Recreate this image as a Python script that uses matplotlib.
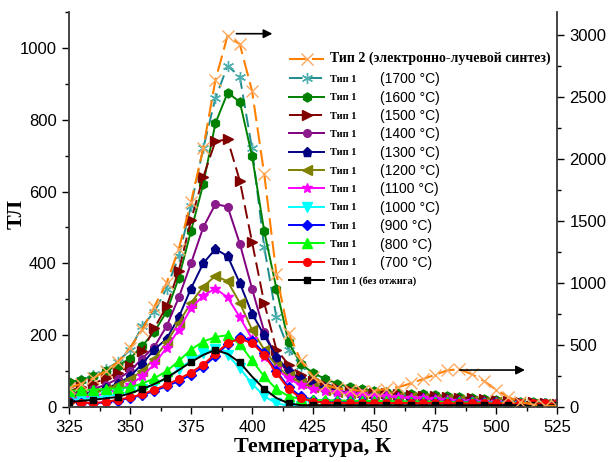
import matplotlib.pyplot as plt
import numpy as np
from matplotlib.ticker import MultipleLocator

plt.rcParams['font.family'] = ['Liberation Sans', 'DejaVu Sans']

# temperature grid, K
temp = np.arange(325, 530, 5)

# type 2 (electron-beam synthesis), right axis
type2 = [153, 188, 232, 290, 362, 478, 622, 810, 1000, 1275,
         1650, 2085, 2635, 2995, 2925, 2550, 1880, 1070, 595, 375,
         245, 180, 150, 140, 130, 130, 145, 160, 190, 225,
         260, 295, 305, 265, 210, 140, 80, 40, 20, 12, 6]

# type 1, annealed at different temperatures, left axis
t1700 = [65, 75, 90, 105, 125, 160, 225, 265, 330, 420,
         560, 720, 860, 950, 920, 720, 445, 250, 160, 115,
         85, 65, 55, 50, 45, 40, 38, 35, 32, 30,
         28, 25, 22, 20, 18, 15, 13, 11, 10, 9, 8]
t1600 = [70, 75, 85, 100, 115, 135, 170, 210, 265, 360,
         490, 620, 790, 875, 850, 700, 490, 330, 180, 120,
         95, 78, 65, 55, 50, 45, 42, 40, 37, 35,
         33, 30, 28, 25, 22, 20, 18, 15, 13, 10, 8]
t1500 = [45, 55, 65, 80, 95, 115, 155, 220, 280, 380,
         520, 640, 740, 745, 630, 460, 290, 160, 118, 90,
         72, 60, 52, 46, 42, 40, 38, 36, 34, 32,
         30, 28, 26, 24, 22, 20, 17, 15, 13, 11, 9]
t1400 = [35, 42, 50, 62, 78, 100, 135, 168, 225, 305,
         400, 500, 565, 558, 455, 330, 210, 135, 95, 75,
         62, 52, 45, 40, 36, 33, 30, 28, 26, 24,
         22, 20, 18, 17, 15, 13, 12, 10, 9, 8, 7]
t1300 = [30, 35, 42, 52, 65, 85, 120, 160, 190, 250,
         330, 400, 440, 420, 345, 260, 200, 140, 100, 78,
         62, 52, 45, 40, 36, 33, 30, 28, 26, 24,
         22, 20, 18, 17, 15, 13, 12, 10, 9, 8, 7]
t1200 = [25, 30, 38, 48, 60, 78, 100, 135, 180, 235,
         290, 335, 365, 350, 290, 215, 160, 115, 85, 68,
         55, 47, 42, 38, 35, 33, 31, 29, 27, 25,
         23, 21, 19, 17, 15, 13, 12, 10, 9, 8, 7]
t1100 = [20, 25, 30, 38, 48, 62, 85, 120, 165, 215,
         275, 310, 330, 305, 250, 190, 140, 105, 80, 60,
         50, 45, 42, 38, 35, 32, 30, 27, 25, 24,
         22, 20, 18, 17, 15, 13, 12, 10, 9, 8, 7]
t1000 = [20, 22, 25, 30, 35, 42, 50, 62, 80, 105,
         130, 150, 162, 145, 108, 65, 30, 10, 4, 2,
         2, 2, 2, 2, 2, 2, 2, 2, 2, 2,
         2, 2, 2, 2, 2, 2, 2, 2, 2, 2, 2]
t900 = [18, 12, 10, 13, 18, 25, 33, 45, 58, 72,
        90, 112, 142, 175, 195, 185, 150, 100, 55, 30,
        20, 18, 17, 16, 16, 15, 15, 15, 14, 14,
        14, 13, 13, 13, 12, 12, 12, 11, 11, 10, 10]
t800 = [45, 47, 48, 50, 52, 55, 65, 80, 100, 128,
        160, 182, 195, 200, 175, 130, 85, 50, 30, 22,
        20, 19, 18, 18, 17, 17, 16, 16, 15, 15,
        14, 14, 13, 13, 12, 12, 11, 11, 10, 10, 9]
t700 = [14, 12, 11, 14, 20, 27, 35, 48, 62, 78,
        96, 118, 148, 178, 190, 178, 145, 95, 50, 25,
        15, 12, 11, 11, 11, 11, 11, 11, 11, 11,
        11, 11, 10, 10, 10, 10, 10, 10, 10, 10, 10]
raw = [14, 17, 20, 24, 28, 38, 50, 64, 81, 103,
       125, 145, 159, 148, 124, 85, 50, 25, 10, 5,
       5, 5, 5, 5, 5, 5, 5, 5, 5, 5,
       5, 5, 5, 5, 5, 5, 5, 5, 5, 5, 5]

anneal_labels = ['(1700 °C)', '(1600 °C)', '(1500 °C)', '(1400 °C)',
                 '(1300 °C)', '(1200 °C)', '(1100 °C)', '(1000 °C)',
                 '(900 °C)', '(800 °C)', '(700 °C)']

fig = plt.figure(figsize=(6.12, 4.62), dpi=100)
ax = fig.add_axes([69 / 612, 55 / 462, 488 / 612, 395 / 462])
ax2 = ax.twinx()

# series: values, line colour, marker, marker colour, size, linestyle
styles = [
    (t1700, '#1F8C8C', (6, 2, 0), '#4FB0B0', 8, (0, (7, 3))),
    (t1600, '#008000', 'h', '#008000', 6.5, '-'),
    (t1500, '#800000', '>', '#800000', 6.5, (0, (7, 3))),
    (t1400, '#800080', 'o', '#8B1A8B', 5.5, '-'),
    (t1300, '#000080', 'p', '#000080', 6.5, '-'),
    (t1200, '#808000', '<', '#808000', 6.5, '-'),
    (t1100, '#FF00FF', '*', '#FF00FF', 7.5, '-'),
    (t1000, '#00FFFF', 'v', '#00FFFF', 6.5, '-'),
    (t900, '#0000FF', 'D', '#0000FF', 5, '-'),
    (t800, '#00FF00', '^', '#00FF00', 6.5, '-'),
    (t700, '#FF0000', 'o', '#FF0000', 5.5, '-'),
]

handles = []
for vals, col, mk, mcol, ms, ls in styles:
    h, = ax.plot(temp, vals, color=col, ls=ls, lw=1.4, marker=mk, ms=ms,
                 mfc=mcol, mec=mcol, mew=1.0)
    handles.append(h)

h_raw, = ax.plot(temp, raw, color='black', lw=1.4, marker='s', ms=5,
                 markevery=2)

h2, = ax2.plot(temp, type2, color='#FF8000', ls=(0, (8, 3)), lw=1.5,
               marker='x', ms=8, mec='#FFA860', mew=1.0)

handles = [h2] + handles + [h_raw]
labels = ['Тип 2 (электронно-лучевой синтез)'] + ['Тип 1'] * 11 + ['Тип 1 (без отжига)']

# axes limits and ticks
ax.set_xlim(325, 525)
ax.set_ylim(0, 1100)
ax2.set_ylim(0, 3185)
ax.xaxis.set_major_locator(MultipleLocator(25))
ax.xaxis.set_minor_locator(MultipleLocator(12.5))
ax.yaxis.set_major_locator(MultipleLocator(200))
ax.yaxis.set_minor_locator(MultipleLocator(100))
ax2.yaxis.set_major_locator(MultipleLocator(500))
ax2.yaxis.set_minor_locator(MultipleLocator(250))

for a in (ax, ax2):
    a.spines['top'].set_visible(False)
    a.tick_params(which='major', direction='out', length=5, width=1, labelsize=12, pad=4)
    a.tick_params(which='minor', direction='out', length=3, width=1)
    for s in a.spines.values():
        s.set_color('#404040')
        s.set_linewidth(1.1)

# arrows pointing to the right-hand scale
ax2.annotate('', xy=(409.5, 3010), xytext=(392.5, 3010),
             arrowprops=dict(arrowstyle='-|>', color='black', lw=1.2, mutation_scale=13))
ax2.annotate('', xy=(513, 298), xytext=(484, 298),
             arrowprops=dict(arrowstyle='-|>', color='black', lw=1.2, mutation_scale=13))

leg = ax2.legend(handles, labels, loc='upper left',
                 bbox_to_anchor=(289 / 612, 1 - 52 / 462), bbox_transform=fig.transFigure,
                 frameon=False, numpoints=1, handlelength=3.4, handletextpad=0.55,
                 labelspacing=0.87, borderpad=0, borderaxespad=0,
                 prop={'family': 'Liberation Serif', 'weight': 'bold', 'size': 7.5})
leg.get_texts()[0].set_fontsize(10)

fig.text(17 / 612, 1 - 214 / 462, 'ТЛ', rotation=90, ha='center', va='center',
         family='Liberation Serif', weight='bold', fontsize=16)
fig.text(313 / 612, 1 - 447 / 462, 'Температура, К', ha='center', va='center',
         family='Liberation Serif', weight='bold', fontsize=16)

# annealing temperatures next to the legend entries
fig.canvas.draw()
for t, lab in zip(leg.get_texts()[1:12], anneal_labels):
    bb = t.get_window_extent()
    fig.text(380 / 612, (bb.y0 + bb.y1) / 2 / fig.bbox.height, lab,
             ha='left', va='center', fontsize=10)

fig.savefig('out.png', dpi=100)
